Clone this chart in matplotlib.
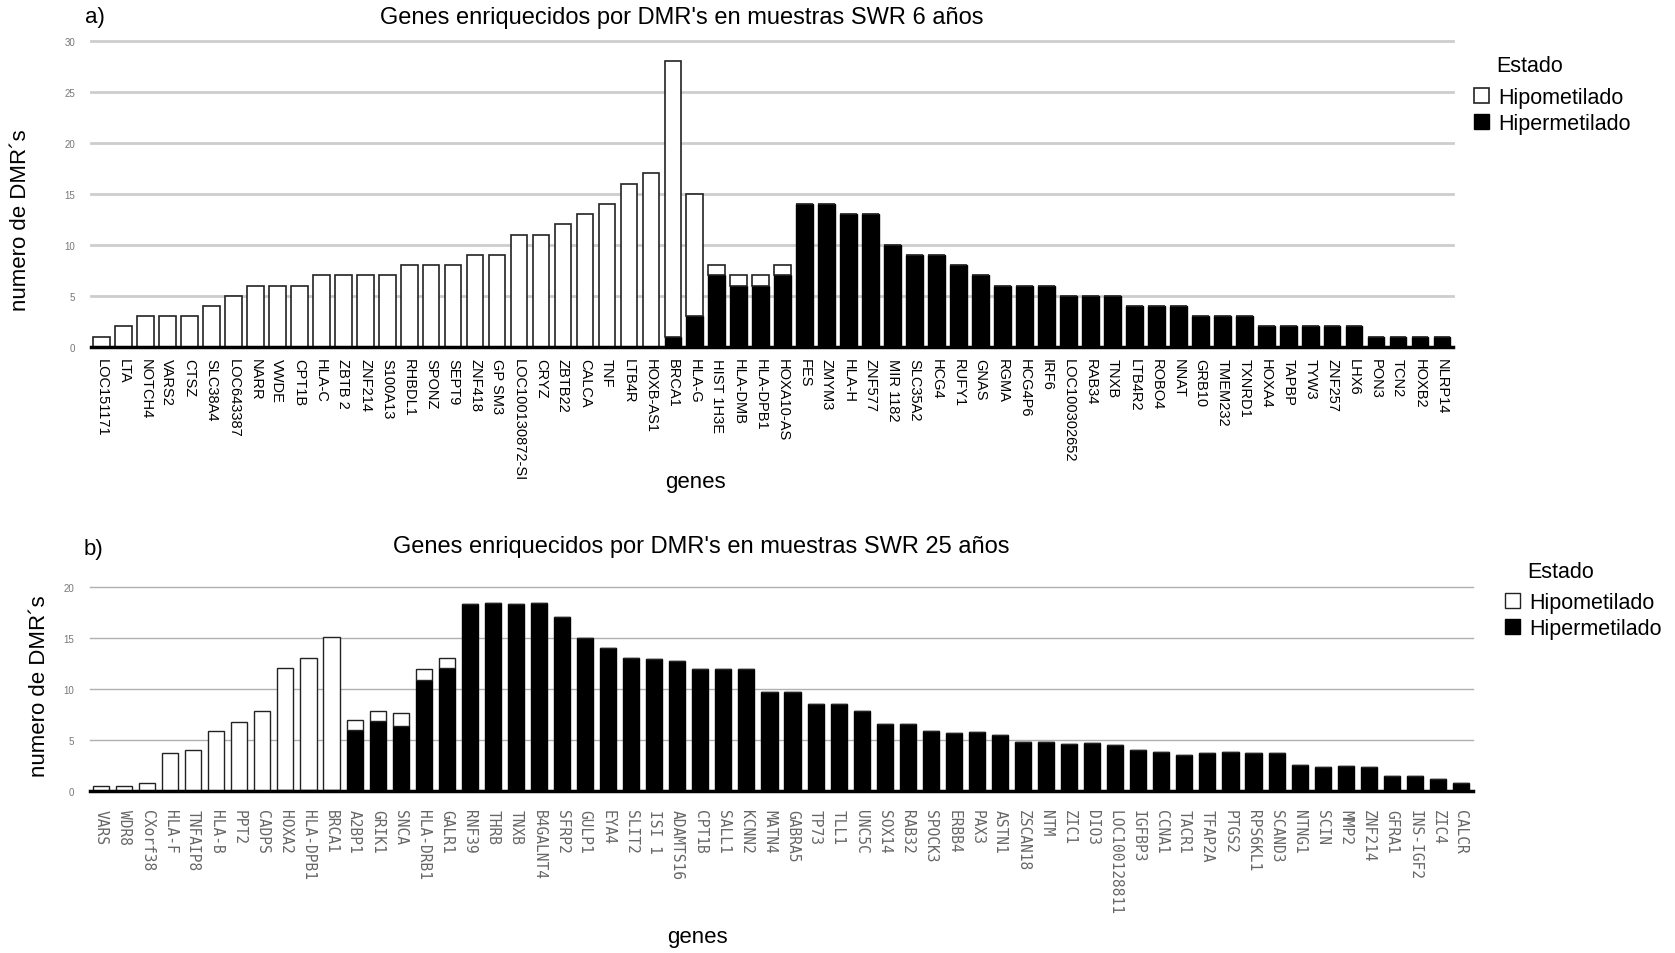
import matplotlib
matplotlib.use("Agg")
import matplotlib.pyplot as plt
import numpy as np

plt.rcParams['font.family'] = ['Liberation Sans', 'DejaVu Sans']

# a) SWR 6 años
genes_a = [
    "LOC151171", "LTA", "NOTCH4", "VARS2", "CTSZ", "SLC38A4", "LOC643387",
    "NARR", "VWDE", "CPT1B", "HLA-C", "ZBTB 2", "ZNF214", "S100A13",
    "RHBDL1", "SPONZ", "SEPT9", "ZNF418", "GP SM3", "LOC100130872-SI",
    "CRYZ", "ZBTB22", "CALCA", "TNF", "LTB4R", "HOXB-AS1", "BRCA1", "HLA-G",
    "HIST 1H3E", "HLA-DMB", "HLA-DPB1", "HOXA10-AS", "FES", "ZMYM3", "HLA-H",
    "ZNF577", "MIR 1182", "SLC35A2", "HCG4", "RUFY1", "GNAS", "RGMA",
    "HCG4P6", "IRF6", "LOC100302652", "RAB34", "TNXB", "LTB4R2", "ROBO4",
    "NNAT", "GRB10", "TMEM232", "TXNRD1", "HOXA4", "TAPBP", "TYW3", "ZNF257",
    "LHX6", "PON3", "TCN2", "HOXB2", "NLRP14",
]
hiper_a = [0] * 26 + [1, 3, 7, 6, 6, 7,
                      14, 14, 13, 13, 10, 9, 9, 8, 7, 6, 6, 6, 5, 5, 5,
                      4, 4, 4, 3, 3, 3, 2, 2, 2, 2, 2, 1, 1, 1, 1]
hipo_a = [1, 2, 3, 3, 3, 4, 5, 6, 6, 6, 7, 7, 7, 7, 8, 8, 8, 9, 9, 11, 11,
          12, 13, 14, 16, 17, 27, 12, 1, 1, 1, 1] + [0] * 30

# b) SWR 25 años
genes_b = [
    "VARS", "WDR8", "CXorf38", "HLA-F", "TNFAIP8", "HLA-B", "PPT2", "CADPS",
    "HOXA2", "HLA-DPB1", "BRCA1", "A2BP1", "GRIK1", "SNCA", "HLA-DRB1",
    "GALR1", "RNF39", "THRB", "TNXB", "B4GALNT4", "SFRP2", "GULP1", "EYA4",
    "SLIT2", "ISI 1", "ADAMTS16", "CPT1B", "SALL1", "KCNN2", "MATN4",
    "GABRA5", "TP73", "TLL1", "UNC5C", "SOX14", "RAB32", "SPOCK3", "ERBB4",
    "PAX3", "ASTN1", "ZSCAN18", "NTM", "ZIC1", "DIO3", "LOC100128811",
    "IGFBP3", "CCNA1", "TACR1", "TFAP2A", "PTGS2", "RPS6KL1", "SCAND3",
    "NTNG1", "SCIN", "MMP2", "ZNF214", "GFRA1", "INS-IGF2", "ZIC4", "CALCR",
]
hiper_b = [0] * 8 + [0.1, 0.1, 0.1, 6.0, 6.8, 6.4, 10.9, 12.0,
                     18.3, 18.4, 18.3, 18.4, 17.0, 15.0, 14.0, 13.0, 12.9,
                     12.7, 11.9, 11.9, 11.9, 9.7, 9.7, 8.5, 8.5, 7.8, 6.6,
                     6.6, 5.9, 5.7, 5.8, 5.5, 4.8, 4.8, 4.6, 4.7, 4.5, 4.0,
                     3.8, 3.5, 3.7, 3.8, 3.7, 3.7, 2.5, 2.35, 2.4, 2.3, 1.5,
                     1.5, 1.15, 0.8]
hipo_b = [0.5, 0.5, 0.8, 3.7, 4.0, 5.9, 6.7, 7.8, 11.9, 12.9, 15.0,
          0.9, 1.0, 1.2, 1.0, 1.0] + [0] * 44

W, H = 1675, 954
fig = plt.figure(figsize=(W / 100, H / 100), dpi=100)


def px_axes(left, right, bottom, top):
    return fig.add_axes([left / W, 1 - bottom / H, (right - left) / W,
                         (bottom - top) / H])


def draw_panel(ax, genes, hiper, hipo, ymax, width, grid_color, grid_lw,
               edge_lw, tick_kw, pad):
    x = np.arange(len(genes))
    hi = ax.bar(x, hiper, width, color='black', edgecolor='black',
                linewidth=1.0, zorder=3, label='Hipermetilado')
    lo = ax.bar(x, hipo, width, bottom=hiper, color='white',
                edgecolor='#222222', linewidth=edge_lw, zorder=3,
                label='Hipometilado')
    ax.set_xlim(-0.5, len(genes) - 0.5)
    ax.set_ylim(0, ymax)
    ax.set_yticks(np.arange(0, ymax + 1, 5))
    ax.yaxis.grid(True, color=grid_color, linewidth=grid_lw, zorder=0)
    ax.set_axisbelow(True)
    for s in ['top', 'right', 'left']:
        ax.spines[s].set_visible(False)
    ax.spines['bottom'].set_linewidth(2.5)
    ax.spines['bottom'].set_zorder(4)
    ax.tick_params(axis='y', length=0, labelsize=7, labelcolor='#777777',
                   pad=11)
    ax.tick_params(axis='x', length=0, pad=pad)
    ax.set_xticks(x)
    ax.set_xticklabels(genes, rotation=270, ha='center', va='top', **tick_kw)
    for line in ax.get_ygridlines():
        line.set_clip_on(False)
    return hi, lo


ax_a = px_axes(90.5, 1453, 347.7, 41.7)
hi_a, lo_a = draw_panel(ax_a, genes_a, hiper_a, hipo_a, 30, 0.76, '#cdcdcd',
                        2.0, 1.2, dict(fontsize=10.5, color='black'), 8)

ax_b = px_axes(89.5, 1472.5, 792, 587.5)
hi_b, lo_b = draw_panel(ax_b, genes_b, hiper_b, hipo_b, 20, 0.70, '#b0b0b0',
                        1.0, 1.0, dict(fontsize=10.5, color='#666666',
                                       family='DejaVu Sans Mono'), 13)

# titles, panel letters and axis labels
fig.text(682 / W, 1 - 18 / H, "Genes enriquecidos por DMR's en muestras SWR 6 años",
         ha='center', va='center', fontsize=17)
fig.text(701 / W, 1 - 547 / H, "Genes enriquecidos por DMR's en muestras SWR 25 años",
         ha='center', va='center', fontsize=17)
fig.text(85 / W, 1 - 18 / H, "a)", ha='left', va='center', fontsize=16)
fig.text(84 / W, 1 - 550 / H, "b)", ha='left', va='center', fontsize=16)
fig.text(21 / W, 1 - 220 / H, "numero de DMR´s", rotation=90, ha='center',
         va='center', fontsize=16)
fig.text(40 / W, 1 - 686 / H, "numero de DMR´s", rotation=90, ha='center',
         va='center', fontsize=16)
fig.text(695 / W, 1 - 483 / H, "genes", ha='center', va='center', fontsize=16)
fig.text(697 / W, 1 - 938 / H, "genes", ha='center', va='center', fontsize=16)

# legends: title text placed separately, entries below it
for hi, lo, sx, sy, ex, ey in [(hi_a, lo_a, 1474, 88, 1496, 67),
                               (hi_b, lo_b, 1505, 593, 1527, 572)]:
    fig.text(ex / W, 1 - ey / H, "Estado", ha='left', va='center',
             fontsize=15.5)
    fig.legend([lo, hi], ['Hipometilado', 'Hipermetilado'],
               loc='upper left', bbox_to_anchor=(sx / W, 1 - sy / H),
               frameon=False, fontsize=15.5, handlelength=0.7,
               handleheight=0.7, handletextpad=0.42, labelspacing=0.24,
               borderpad=0.0, borderaxespad=0.0)

fig.savefig('out.png', dpi=100, facecolor='white')
